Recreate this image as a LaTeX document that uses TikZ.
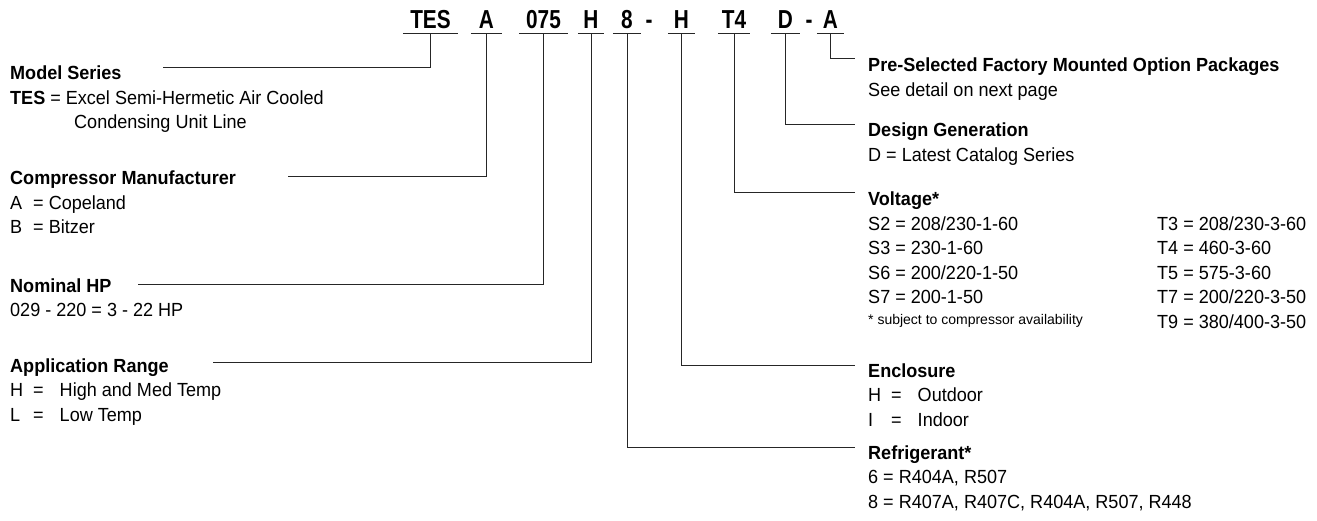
\documentclass[tikz,border=0pt]{standalone}
\usepackage{fontspec}
\setmainfont[FakeStretch=0.95]{Liberation Sans}
\newfontfamily\codefont[FakeStretch=0.8]{Liberation Sans}
\newfontfamily\notefont{Liberation Sans}
\usetikzlibrary{positioning}

\begin{document}
\begin{tikzpicture}[x=1pt,y=-1pt,
    codebox/.style={font=\codefont\fontsize{26}{26}\selectfont\bfseries, anchor=base, inner xsep=0pt, inner ysep=4pt, text depth=0pt},
    block/.style={font=\fontsize{19}{24.5}\selectfont, align=left, anchor=base west, inner sep=0pt},
    note/.style={font=\notefont\fontsize{14}{16}\selectfont, anchor=base west, inner sep=0pt},
    lead/.style={line width=1pt, black!85}]
    \useasboundingbox (0,0) rectangle (1317,521);
    % model number
    \node[codebox, minimum width=55pt] (m_tes) at (430.5,29) {TES};
    \node[codebox, minimum width=31pt] (m_mfr) at (486.5,29) {A};
    \node[codebox, minimum width=49pt] (m_hp) at (543.5,29) {075};
    \node[codebox, minimum width=26pt] (m_app) at (591,29) {H};
    \node[codebox, minimum width=28pt] (m_ref) at (627,29) {8};
    \node[codebox] (m_dash1) at (649,29) {-};
    \node[codebox, minimum width=27pt] (m_enc) at (681.5,29) {H};
    \node[codebox, minimum width=32pt] (m_volt) at (734,29) {T4};
    \node[codebox, minimum width=29pt] (m_gen) at (785.5,29) {D};
    \node[codebox] (m_dash2) at (809,29) {-};
    \node[codebox, minimum width=27pt] (m_pkg) at (830.5,29) {A};
    \foreach \n in {m_tes,m_mfr,m_hp,m_app,m_ref,m_enc,m_volt,m_gen,m_pkg}
        \draw[lead] (\n.south west) -- (\n.south east);

    % left side (anchored on the last line)
    \node[block] (b_tes) at (10,129) {\textbf{Model Series}\\\textbf{TES} = Excel Semi-Hermetic Air Cooled\\\hspace*{64pt}Condensing Unit Line};
    \node[block] (b_mfr) at (10,234) {\textbf{Compressor Manufacturer}\\\makebox[23pt][l]{A}= Copeland\\\makebox[23pt][l]{B}= Bitzer};
    \node[block] (b_hp) at (10,316.5) {\textbf{Nominal HP}\\029 - 220 = 3 - 22 HP};
    \node[block] (b_app) at (10,421) {\textbf{Application Range}\\\makebox[23pt][l]{H}=\hspace{16pt}High and Med Temp\\\makebox[23pt][l]{L}=\hspace{16pt}Low Temp};

    % right side
    \node[block] (b_pkg) at (868,96.5) {\textbf{Pre-Selected Factory Mounted Option Packages}\\See detail on next page};
    \node[block] (b_gen) at (868,161.5) {\textbf{Design Generation}\\D = Latest Catalog Series};
    \node[block] (b_volt) at (868,304) {\textbf{Voltage*}\\S2 = 208/230-1-60\\S3 = 230-1-60\\S6 = 200/220-1-50\\S7 = 200-1-50};
    \node[block] (b_volt3) at (1157,328.5) {T3 = 208/230-3-60\\T4 = 460-3-60\\T5 = 575-3-60\\T7 = 200/220-3-50\\T9 = 380/400-3-50};
    \node[note] (b_note) at (868,324) {* subject to compressor availability};
    \node[block] (b_enc) at (868,426) {\textbf{Enclosure}\\\makebox[23pt][l]{H}=\hspace{16pt}Outdoor\\\makebox[23pt][l]{I}=\hspace{16pt}Indoor};
    \node[block] (b_ref) at (868,508) {\textbf{Refrigerant*}\\6 = R404A, R507\\8 = R407A, R407C, R404A, R507, R448};

    % leader ends
    \coordinate (e_tes) at (163,68);
    \coordinate (e_mfr) at (288,177);
    \coordinate (e_hp) at (138,285);
    \coordinate (e_app) at (213,362);
    \coordinate (e_pkg) at (855,59);
    \coordinate (e_gen) at (855,125);
    \coordinate (e_volt) at (855,193);
    \coordinate (e_enc) at (855,365);
    \coordinate (e_ref) at (855,447);

    \foreach \n in {tes,mfr,hp,app,pkg,gen,volt,enc,ref}
        \draw[lead] (m_\n.south) |- (e_\n);
\end{tikzpicture}
\end{document}
